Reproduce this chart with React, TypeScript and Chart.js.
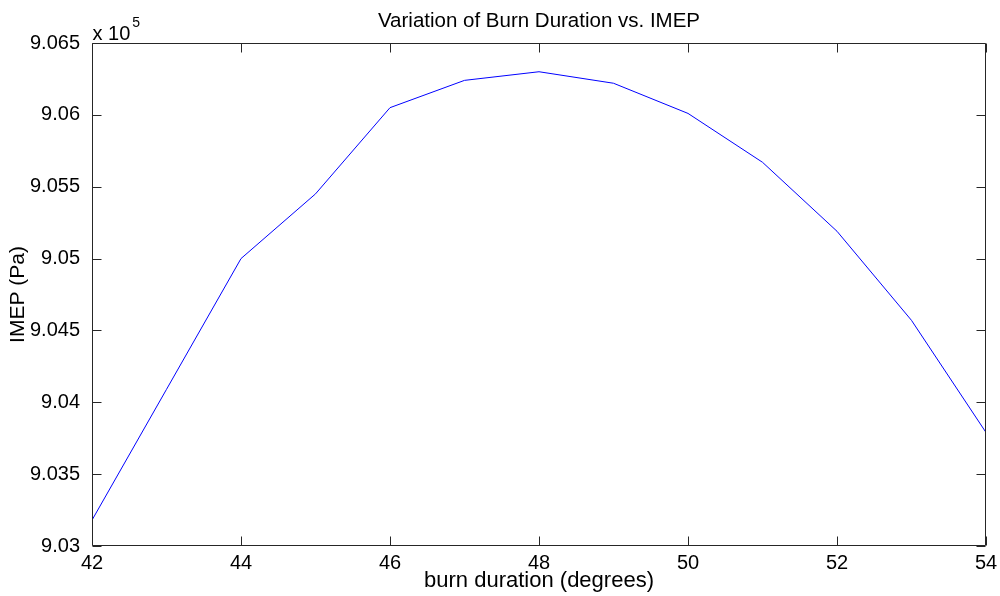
import React, { useEffect, useRef } from "react";
import { Chart, registerables } from "chart.js";

Chart.register(...registerables);

// ---- Data ----
const burnDuration: number[] = [42, 43, 44, 45, 46, 47, 48, 49, 50, 51, 52, 53, 54];
const imepPa: number[] = [
  903180, 904090, 905000, 905450, 906050, 906240, 906300, 906220, 906010, 905670, 905190, 904570, 903790,
];
const xTickValues: number[] = [42, 44, 46, 48, 50, 52, 54];
const yTickValues: number[] = [903000, 903500, 904000, 904500, 905000, 905500, 906000, 906500];

const titleText = "Variation of Burn Duration vs. IMEP";
const xTitleText = "burn duration (degrees)";
const yTitleText = "IMEP (Pa)";
const FONT = "'Liberation Sans', Arial, Helvetica, sans-serif";

function fmtY(v: number): string {
  let s = (v / 1e5).toFixed(3);
  s = s.replace(/0+$/, "").replace(/\.$/, "");
  return s;
}

const matlabPlugin = {
  id: "matlabAxes",
  afterDraw(chart: any) {
    const ctx = chart.ctx as CanvasRenderingContext2D;
    const { left, right, top, bottom } = chart.chartArea;
    const xs = chart.scales.x;
    const ys = chart.scales.y;
    const L = Math.round(left) + 0.5;
    const R = Math.round(right) - 0.5;
    const T = Math.round(top) + 0.5;
    const B = Math.round(bottom) - 0.5;
    const tl = 9;
    ctx.save();
    ctx.strokeStyle = "#262626";
    ctx.lineWidth = 1;
    ctx.beginPath();
    ctx.rect(L, T, R - L, B - T);
    ctx.stroke();
    ctx.beginPath();
    for (const v of xTickValues) {
      const px = Math.round(xs.getPixelForValue(v)) + 0.5;
      ctx.moveTo(px, B);
      ctx.lineTo(px, B - tl);
      ctx.moveTo(px, T);
      ctx.lineTo(px, T + tl);
    }
    for (const v of yTickValues) {
      const py = Math.round(ys.getPixelForValue(v)) + 0.5;
      ctx.moveTo(L, py);
      ctx.lineTo(L + tl, py);
      ctx.moveTo(R, py);
      ctx.lineTo(R - tl, py);
    }
    ctx.stroke();

    // title centred over the axes
    ctx.fillStyle = "#000";
    ctx.font = `20.5px ${FONT}`;
    ctx.textAlign = "center";
    ctx.textBaseline = "alphabetic";
    ctx.fillText(titleText, (left + right) / 2, 27);

    // exponent label
    ctx.textAlign = "left";
    ctx.font = `20px ${FONT}`;
    ctx.fillText("x 10", L, 40);
    const w = ctx.measureText("x 10").width;
    ctx.font = `14px ${FONT}`;
    ctx.fillText("5", L + w + 2, 27);
    ctx.restore();
  },
};

export default function App() {
  const ref = useRef<HTMLCanvasElement | null>(null);
  useEffect(() => {
    if (!ref.current) return;
    const chart = new Chart(ref.current, {
      type: "line",
      data: {
        labels: burnDuration,
        datasets: [
          {
            label: "IMEP",
            data: burnDuration.map((x, i) => ({ x, y: imepPa[i] })),
            borderColor: "#0000ff",
            borderWidth: 1,
            pointRadius: 0,
            tension: 0,
            fill: false,
          },
        ],
      },
      options: {
        animation: false,
        responsive: false,
        maintainAspectRatio: false,
        layout: { padding: { top: 43, right: 14, left: 0, bottom: 0 } },
        plugins: {
          legend: { display: false },
          title: { display: false },
          tooltip: { enabled: false },
        },
        scales: {
          x: {
            type: "linear",
            min: 42,
            max: 54,
            afterBuildTicks: (s: any) => {
              s.ticks = xTickValues.map((v) => ({ value: v }));
            },
            afterFit: (s: any) => {
              s.height = 50;
            },
            grid: { display: false },
            border: { display: false },
            ticks: {
              color: "#000",
              padding: -3,
              maxRotation: 0,
              autoSkip: false,
              font: { family: FONT, size: 20 },
              callback: (v: any) => String(v),
            },
            title: {
              display: true,
              text: xTitleText,
              color: "#000",
              font: { family: FONT, size: 22 },
              padding: { top: 0, bottom: 2 },
            },
          },
          y: {
            type: "linear",
            min: 903000,
            max: 906500,
            afterBuildTicks: (s: any) => {
              s.ticks = yTickValues.map((v) => ({ value: v }));
            },
            afterFit: (s: any) => {
              s.width = 92;
            },
            grid: { display: false },
            border: { display: false },
            ticks: {
              color: "#000",
              padding: 4,
              autoSkip: false,
              font: { family: FONT, size: 20 },
              callback: (v: any) => fmtY(Number(v)),
            },
            title: {
              display: true,
              text: yTitleText,
              color: "#000",
              font: { family: FONT, size: 21 },
              padding: { top: 6, bottom: 0 },
            },
          },
        },
      },
      plugins: [matlabPlugin],
    });
    return () => chart.destroy();
  }, []);
  return (
    <div style={{ position: "absolute", left: 0, top: 0, width: 1000, height: 596, background: "#fff" }}>
      <canvas ref={ref} width={1000} height={596} style={{ display: "block", width: 1000, height: 596 }} />
    </div>
  );
}
